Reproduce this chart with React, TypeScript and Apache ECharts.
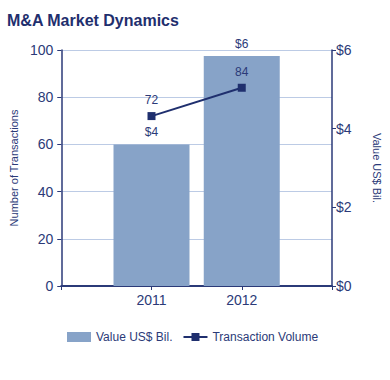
import React, { useEffect, useRef } from "react";
import * as echarts from "echarts";

const years = ["2011", "2012"];
const valueBil = [3.6, 5.85];
const transactions = [72, 84];
const leftTicks = [0, 20, 40, 60, 80, 100];
const rightTicks = [0, 2, 4, 6];
const titleText = "M&A Market Dynamics";

const NAVY = "#1f2f6e";
const AXIS = "#2b3a78";
const BAR = "#87a3c8";
const GRID = "#bccbe5";
const FONT = "Liberation Sans, Arial, sans-serif";

export default function App() {
  const ref = useRef<HTMLDivElement>(null);
  useEffect(() => {
    if (!ref.current) return;
    const chart = echarts.init(ref.current, null, { renderer: "svg" });
    const cats = ["", ...years, ""];
    const barData = [null, ...valueBil, null];
    const lineData = [null, ...transactions, null];
    chart.setOption({
      animation: false,
      textStyle: { fontFamily: FONT },
      graphic: [
        {
          type: "text",
          x: 7,
          y: 12,
          style: {
            text: titleText,
            fill: NAVY,
            font: "bold 16px Liberation Sans, Arial, sans-serif",
            textAlign: "left",
            textVerticalAlign: "top",
          },
        },
      ],
      grid: { left: 58, right: 48, top: 50, bottom: 94 },
      legend: {
        bottom: 32,
        left: 62,
        itemWidth: 24,
        itemHeight: 10,
        itemGap: 10,
        textStyle: { fontFamily: FONT, fontSize: 12, color: AXIS },
        data: [
          { name: "Value US$ Bil.", icon: "rect" },
          { name: "Transaction Volume" },
        ],
      },
      xAxis: {
        type: "category",
        data: cats,
        boundaryGap: false,
        axisLine: { lineStyle: { color: AXIS, width: 2 } },
        axisTick: { show: true, length: 4, lineStyle: { color: AXIS }, alignWithLabel: true },
        axisLabel: { color: AXIS, fontSize: 14, fontFamily: FONT, margin: 7, interval: 0 },
        splitLine: { show: false },
      },
      yAxis: [
        {
          type: "value",
          min: leftTicks[0],
          max: leftTicks[leftTicks.length - 1],
          interval: leftTicks[1] - leftTicks[0],
          name: "Number of Transactions",
          nameLocation: "middle",
          nameGap: 40,
          nameRotate: 90,
          nameTextStyle: { color: AXIS, fontSize: 11, fontFamily: FONT },
          axisLine: { show: true, lineStyle: { color: AXIS, width: 1.5 } },
          axisTick: { show: true, length: 4, lineStyle: { color: AXIS } },
          axisLabel: { color: AXIS, fontSize: 14, fontFamily: FONT, margin: 8 },
          splitLine: { show: true, lineStyle: { color: GRID, width: 1 } },
        },
        {
          type: "value",
          min: rightTicks[0],
          max: rightTicks[rightTicks.length - 1],
          interval: rightTicks[1] - rightTicks[0],
          position: "right",
          name: "Value US$ Bil.",
          nameLocation: "middle",
          nameGap: 39,
          nameRotate: -90,
          nameTextStyle: { color: AXIS, fontSize: 11, fontFamily: FONT },
          axisLine: { show: true, lineStyle: { color: AXIS, width: 1.5 } },
          axisTick: { show: true, length: 4, lineStyle: { color: AXIS } },
          axisLabel: { color: AXIS, fontSize: 14, fontFamily: FONT, margin: 4, formatter: (v: number) => "$" + v },
          splitLine: { show: false },
        },
      ],
      series: [
        {
          name: "Value US$ Bil.",
          type: "bar",
          yAxisIndex: 1,
          data: barData,
          barWidth: 76,
          itemStyle: { color: BAR },
          label: {
            show: true,
            position: "top",
            distance: 6,
            color: AXIS,
            fontSize: 12,
            fontFamily: FONT,
            formatter: (p: any) => "$" + Math.round(p.value),
          },
        },
        {
          name: "Transaction Volume",
          type: "line",
          yAxisIndex: 0,
          data: lineData,
          symbol: "rect",
          symbolSize: 8,
          connectNulls: false,
          lineStyle: { color: NAVY, width: 2 },
          itemStyle: { color: NAVY },
          label: {
            show: true,
            position: "top",
            distance: 6,
            color: AXIS,
            fontSize: 12,
            fontFamily: FONT,
          },
        },
      ],
    });
    return () => chart.dispose();
  }, []);
  return (
    <div
      ref={ref}
      style={{ width: 390, height: 380, position: "absolute", left: 0, top: 0 }}
    />
  );
}
